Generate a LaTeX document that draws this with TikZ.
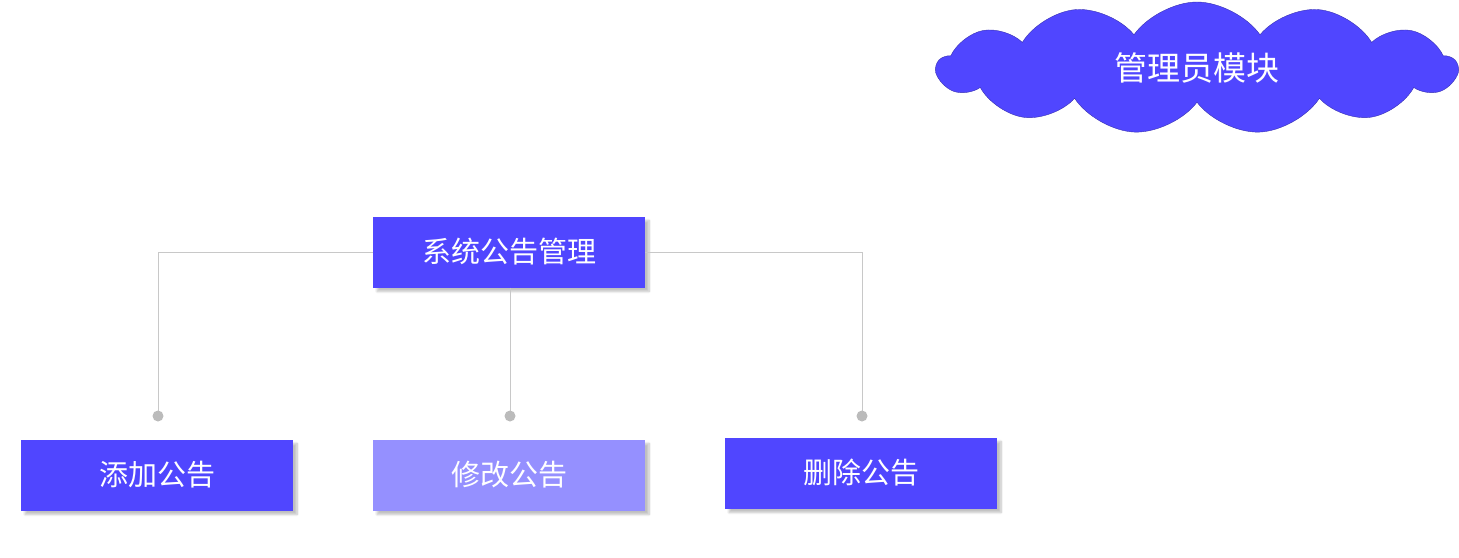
\documentclass[tikz,border=0pt]{standalone}
\usepackage{fontspec}
\setmainfont{Noto Sans CJK SC}
\usetikzlibrary{shapes.symbols,shadows.blur}
\definecolor{main}{HTML}{5046FF}
\definecolor{light}{HTML}{9590FF}
\definecolor{ln}{HTML}{C8C8C8}
\definecolor{dot}{HTML}{BBBBBB}
\begin{document}
\begin{tikzpicture}[x=1pt,y=-1pt,
  box/.style={fill=main,text=white,minimum width=272pt,minimum height=71pt,inner sep=0pt,font=\fontsize{29}{30}\selectfont,blur shadow={shadow blur steps=8,shadow xshift=4pt,shadow yshift=-4pt,shadow opacity=25}},
  conn/.style={draw=ln,line width=1pt},
  dotc/.style={circle,fill=dot,minimum size=11pt,inner sep=0pt}]
\useasboundingbox (0,0) rectangle (1459,557);
\node[cloud,cloud puffs=13,cloud puff arc=110,aspect=3.8,fill=main,draw=main!70!black,minimum width=520pt,minimum height=132pt,inner sep=0pt,text=white,font=\fontsize{33}{34}\selectfont] (cl) at (1197,68) {管理员模块};
\node[box] (top) at (509,252) {系统公告管理};
\node[box] (a) at (157,475) {添加公告};
\node[box,fill=light] (b) at (509,475) {修改公告};
\node[box] (c) at (861,473) {删除公告};
\coordinate (da) at (158,416);
\coordinate (db) at (510,416);
\coordinate (dc) at (862,416);
\draw[conn] (top.west) -| (da);
\draw[conn] (top.south -| db) -- (db);
\draw[conn] (top.east) -| (dc);
\node[dotc] (pa) at (da) {};
\node[dotc] (pb) at (db) {};
\node[dotc] (pc) at (dc) {};
\end{tikzpicture}
\end{document}
